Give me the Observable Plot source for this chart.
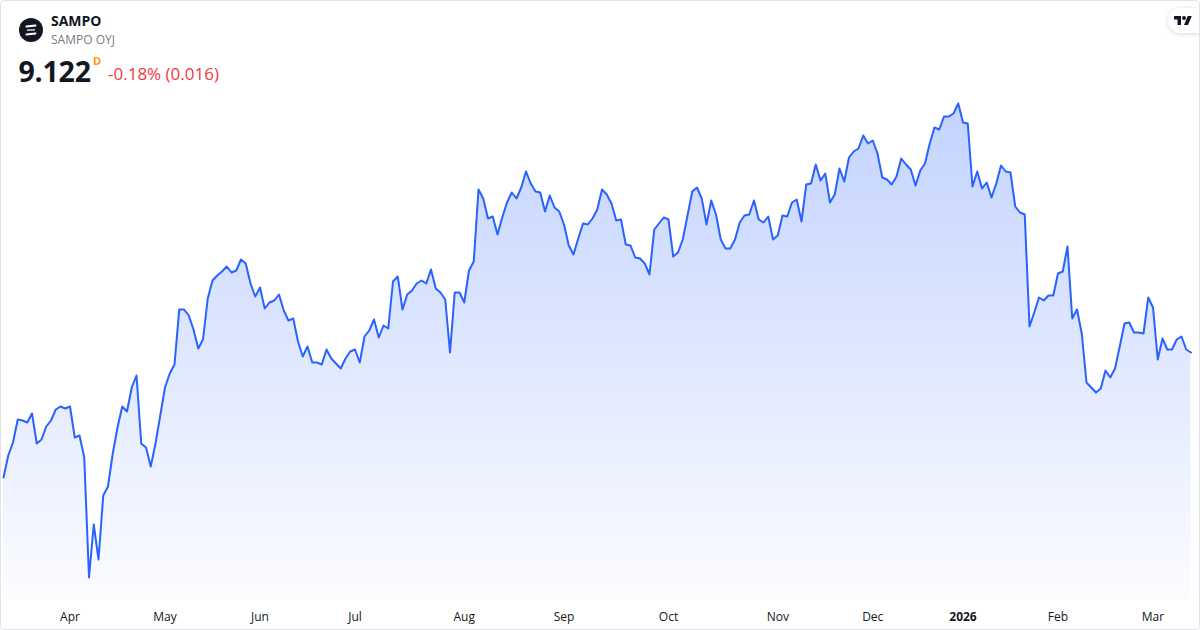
<!DOCTYPE html>
<html>
<head>
<meta charset="utf-8">
<script src="https://cdn.jsdelivr.net/npm/d3@7"></script>
<script src="https://cdn.jsdelivr.net/npm/@observablehq/plot@0.6"></script>
<style>
html, body { margin: 0; padding: 0; background: #fff; }
body { width: 1200px; height: 630px; overflow: hidden; font-family: "Open Sans", sans-serif; color: #131722; }
#wrap { position: relative; width: 1200px; height: 630px; }
#chart { position: absolute; left: 0; top: 0; }
#frame { position: absolute; left: 0; top: 0; width: 1198px; height: 628px; border: 1px solid #e0e3eb; border-radius: 4px; pointer-events: none; }
.t { position: absolute; white-space: nowrap; }
#name { left: 51px; top: 10.5px; font-size: 14px; line-height: 20px; font-weight: 700; color: #131722; }
#sub { left: 51px; top: 30.3px; font-size: 12px; line-height: 20px; color: #787b86; }
#price { left: 18.5px; top: 52.5px; font-size: 28.5px; line-height: 36px; font-weight: 700; color: #131722; letter-spacing: -0.2px; }
#flag { left: 93px; top: 54.4px; font-size: 11px; line-height: 14px; font-weight: 700; color: #ff9800; }
#chg { left: 108px; top: 63px; font-size: 17px; line-height: 22px; color: #f23645; }
#logo { position: absolute; left: 19px; top: 18px; }
#tv { position: absolute; left: 1168px; top: 8px; width: 32px; height: 25px; background: #fff; border-radius: 12.5px 0 0 12.5px; box-shadow: 0 1px 5px rgba(0,0,0,0.16); }
#tv svg { position: absolute; left: 6px; top: 6px; }
</style>
</head>
<body>
<div id="wrap">
  <div id="chart"></div>
  <svg id="logo" width="24" height="24" viewBox="0 0 24 24">
    <circle cx="12" cy="12" r="12" fill="#131722"/>
    <path d="M7.5 8.6 L16.5 7.6" stroke="#fff" stroke-width="2" stroke-linecap="round" fill="none"/>
    <path d="M8.5 12.2 L15.5 11.8" stroke="#fff" stroke-width="1.3" stroke-linecap="round" fill="none"/>
    <path d="M7.5 16.4 L16.5 15.4" stroke="#fff" stroke-width="2" stroke-linecap="round" fill="none"/>
  </svg>
  <div class="t" id="name">SAMPO</div>
  <div class="t" id="sub">SAMPO OYJ</div>
  <div class="t" id="price">9.122</div>
  <div class="t" id="flag">D</div>
  <div class="t" id="chg">-0.18% (0.016)</div>
  <div id="tv">
    <svg width="18" height="14" viewBox="0 0 36 28">
      <path d="M14 22H7V11H0V4h14v18zM28 22h-8l7.5-18h8L28 22z" fill="#131722"/>
      <circle cx="20" cy="8" r="4" fill="#131722"/>
    </svg>
  </div>
  <div id="frame"></div>
</div>
<script>
// Daily closes (EUR), trading-day index 0 = 12 Mar 2025 ... 250 = 12 Mar 2026
const prices = [
  8.497, 8.607, 8.672, 8.787, 8.782, 8.772, 8.817, 8.667, 8.687, 8.752,
  8.782, 8.837, 8.852, 8.842, 8.852, 8.697, 8.707, 8.597, 7.997, 8.262,
  8.087, 8.407, 8.452, 8.617, 8.747, 8.852, 8.827, 8.947, 9.007, 8.667,
  8.647, 8.552, 8.667, 8.807, 8.947, 9.017, 9.062, 9.337, 9.337, 9.307,
  9.237, 9.142, 9.187, 9.392, 9.482, 9.507, 9.527, 9.552, 9.522, 9.532,
  9.587, 9.567, 9.467, 9.402, 9.447, 9.342, 9.372, 9.382, 9.412, 9.332,
  9.282, 9.292, 9.177, 9.102, 9.152, 9.072, 9.072, 9.062, 9.137, 9.092,
  9.067, 9.042, 9.092, 9.127, 9.137, 9.072, 9.202, 9.232, 9.287, 9.197,
  9.257, 9.242, 9.477, 9.502, 9.337, 9.412, 9.432, 9.467, 9.482, 9.467,
  9.537, 9.442, 9.422, 9.387, 9.122, 9.422, 9.422, 9.372, 9.532, 9.577,
  9.937, 9.892, 9.792, 9.802, 9.712, 9.797, 9.872, 9.922, 9.892, 9.947,
  10.027, 9.967, 9.927, 9.922, 9.827, 9.907, 9.847, 9.827, 9.762, 9.657,
  9.612, 9.692, 9.767, 9.762, 9.792, 9.837, 9.937, 9.912, 9.867, 9.782,
  9.787, 9.662, 9.657, 9.597, 9.592, 9.567, 9.512, 9.737, 9.767, 9.797,
  9.787, 9.602, 9.622, 9.687, 9.807, 9.927, 9.947, 9.892, 9.762, 9.882,
  9.812, 9.687, 9.642, 9.642, 9.687, 9.772, 9.807, 9.812, 9.882, 9.787,
  9.772, 9.802, 9.687, 9.707, 9.807, 9.802, 9.872, 9.887, 9.777, 9.962,
  9.967, 10.062, 9.982, 10.017, 9.872, 9.912, 10.042, 9.977, 10.097, 10.127,
  10.142, 10.207, 10.167, 10.182, 10.117, 9.997, 9.987, 9.962, 10.002, 10.092,
  10.062, 10.037, 9.957, 10.032, 10.067, 10.167, 10.247, 10.237, 10.302, 10.302,
  10.317, 10.367, 10.272, 10.267, 9.952, 10.027, 9.942, 9.972, 9.897, 9.967,
  10.057, 10.027, 10.022, 9.852, 9.822, 9.812, 9.252, 9.322, 9.397, 9.382,
  9.407, 9.407, 9.517, 9.527, 9.652, 9.292, 9.337, 9.217, 8.972, 8.947,
  8.922, 8.942, 9.032, 8.997, 9.042, 9.152, 9.267, 9.272, 9.222, 9.222,
  9.217, 9.397, 9.347, 9.087, 9.192, 9.137, 9.137, 9.187, 9.202, 9.137,
  9.122
];
// First trading day of each month (index into prices) and its label
const monthTicks  = [14, 34, 54, 74, 97, 118, 140, 163, 183, 222, 242];
const monthLabels = ["Apr", "May", "Jun", "Jul", "Aug", "Sep", "Oct", "Nov", "Dec", "Feb", "Mar"];
const yearTicks   = [202];
const yearLabels  = ["2026"];

const yDomain = [7.882, 10.382];
const data = prices.map((p, i) => ({ i, p }));

const gradientDefs = () => {
  const ns = "http://www.w3.org/2000/svg";
  const defs = document.createElementNS(ns, "defs");
  defs.innerHTML =
    '<linearGradient id="areaGrad" x1="0" y1="0" x2="0" y2="1">' +
    '<stop offset="0" stop-color="#2962ff" stop-opacity="0.28"/>' +
    '<stop offset="1" stop-color="#2962ff" stop-opacity="0.015"/>' +
    '</linearGradient>';
  return defs;
};

const chart = Plot.plot({
  width: 1200,
  height: 630,
  marginTop: 100,
  marginBottom: 30,
  marginLeft: 3,
  marginRight: 9.5,
  x: { domain: [0, prices.length - 1], label: null },
  y: { domain: yDomain, axis: null },
  style: { fontFamily: "'Open Sans', sans-serif", fontSize: "12px", color: "#131722", background: "transparent", overflow: "visible" },
  marks: [
    gradientDefs,
    Plot.areaY(data, { x: "i", y1: () => yDomain[0], y2: "p", fill: "url(#areaGrad)" }),
    Plot.lineY(data, { x: "i", y: "p", stroke: "#2962ff", strokeWidth: 2, strokeLinejoin: "round" }),
    Plot.axisX(monthTicks, {
      tickSize: 0, tickPadding: 12, fontSize: 12, fill: "#131722", label: null,
      tickFormat: (v) => monthLabels[monthTicks.indexOf(v)]
    }),
    Plot.axisX(yearTicks, {
      tickSize: 0, tickPadding: 12, fontSize: 12, fill: "#131722", fontWeight: "bold", label: null,
      tickFormat: (v) => yearLabels[yearTicks.indexOf(v)]
    })
  ]
});
document.getElementById("chart").appendChild(chart);
</script>
</body>
</html>
